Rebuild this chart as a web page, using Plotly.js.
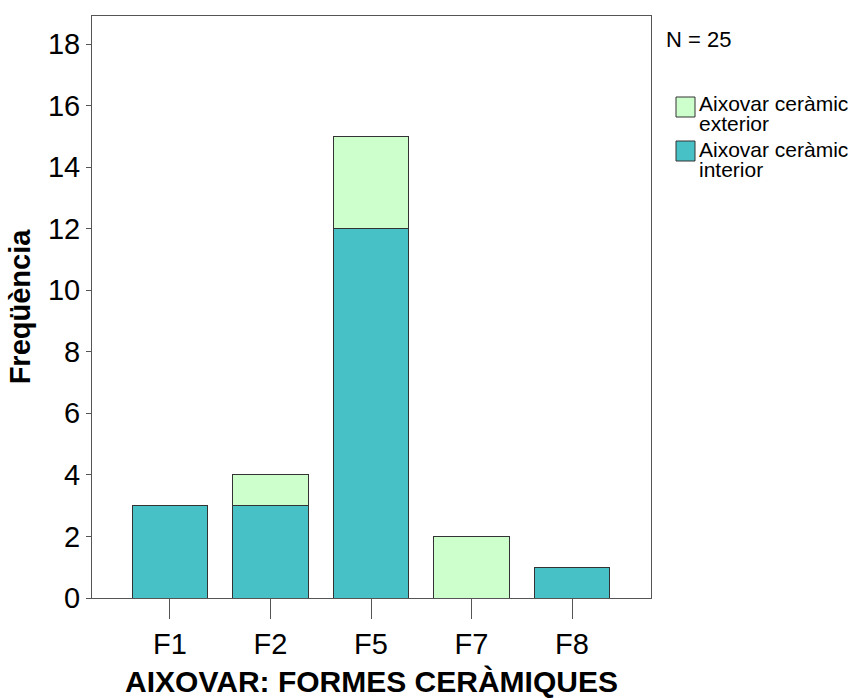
<!DOCTYPE html>
<html><head><meta charset="utf-8">
<script src="https://cdn.plot.ly/plotly-3.0.1.min.js"></script>
<style>body{margin:0;background:#fff}#chart{width:861px;height:698px}</style>
</head><body><div id="chart"></div>
<script>
const categories = ['F1','F2','F5','F7','F8'];
const interiorValues = [3, 3, 12, 0, 1];
const exteriorValues = [0, 1, 3, 2, 0];
const seriesNames = ['Aixovar ceràmic interior', 'Aixovar ceràmic exterior'];
const legendLines = [['Aixovar ceràmic', 'interior'], ['Aixovar ceràmic', 'exterior']];
const nLabel = 'N = 25';
const yTicks = [0,2,4,6,8,10,12,14,16,18];

const colInterior = '#48C1C6';
const colExterior = '#CCFFCC';
const edge = '#333333';

const traces = [
  {type:'bar', name:seriesNames[0], x:categories, y:interiorValues,
   marker:{color:colInterior, line:{color:edge, width:1}}, width:0.756},
  {type:'bar', name:seriesNames[1], x:categories, y:exteriorValues,
   marker:{color:colExterior, line:{color:edge, width:1}}, width:0.756}
];

const font = 'Liberation Sans, Arial, sans-serif';
const px = v => (v-92)/559;
const py = v => (598-v)/582;
const legendAnn = [];
[[1, 103, 123], [0, 150, 170]].forEach(([i, y1, y2]) => {
  legendAnn.push({xref:'paper', yref:'paper', x:px(697), y:py(y1), xanchor:'left', yanchor:'middle',
    text:legendLines[i][0], showarrow:false, font:{size:21, family:font}});
  legendAnn.push({xref:'paper', yref:'paper', x:px(697), y:py(y2), xanchor:'left', yanchor:'middle',
    text:legendLines[i][1], showarrow:false, font:{size:21, family:font}});
});

const layout = {
  width:861, height:698,
  margin:{l:92, r:210, t:16, b:100},
  barmode:'stack',
  showlegend:false,
  paper_bgcolor:'#fff', plot_bgcolor:'#fff',
  font:{family:font, color:'#000'},
  xaxis:{
    type:'category', range:[-0.776, 4.786],
    showline:true, linecolor:'#555', linewidth:1, mirror:true,
    ticks:'outside', ticklen:20, tickcolor:'#555', tickwidth:1,
    tickfont:{size:29, family:font},
    showgrid:false, zeroline:false,
    title:{text:'AIXOVAR: FORMES CERÀMIQUES', font:{size:30, family:font, weight:'bold'}, standoff:14}
  },
  yaxis:{
    range:[0, 18.91], tickvals:yTicks,
    showline:true, linecolor:'#555', linewidth:1, mirror:true,
    ticks:'outside', ticklen:5, tickcolor:'#555', tickwidth:1,
    tickfont:{size:29, family:font},
    showgrid:false, zeroline:false,
    title:{text:'Freqüència', font:{size:29, family:font, weight:'bold'}, standoff:8}
  },
  shapes:[
    {type:'rect', xref:'paper', yref:'paper', x0:px(676), x1:px(695),
     y0:py(117), y1:py(97), fillcolor:colExterior, line:{color:edge, width:1}},
    {type:'rect', xref:'paper', yref:'paper', x0:px(676), x1:px(695),
     y0:py(161), y1:py(141), fillcolor:colInterior, line:{color:edge, width:1}}
  ],
  annotations:[
    {xref:'paper', yref:'paper', x:px(664), y:py(40), xanchor:'left', yanchor:'middle',
     text:nLabel, showarrow:false, font:{size:22, family:font}}
  ].concat(legendAnn)
};
Plotly.newPlot('chart', traces, layout, {displayModeBar:false, staticPlot:true});
</script></body></html>
